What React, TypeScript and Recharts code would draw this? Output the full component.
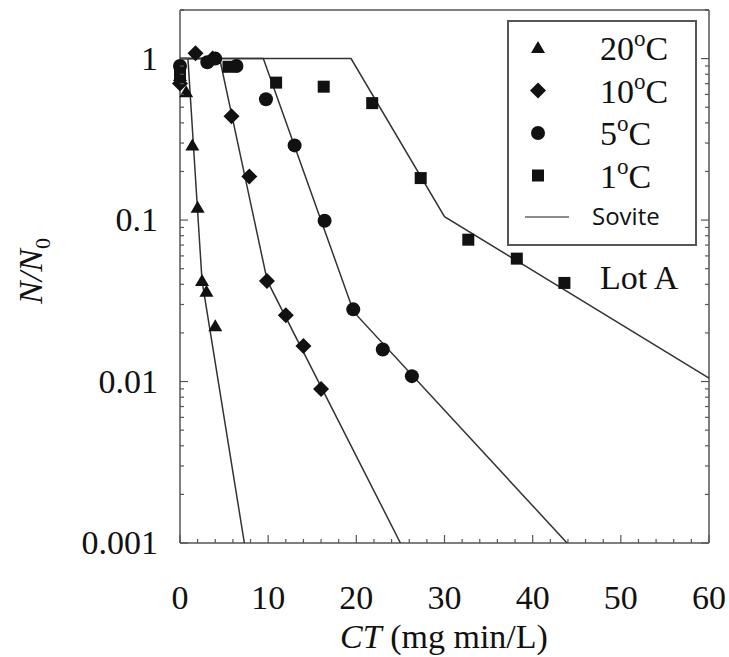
import React from 'react';
import { ScatterChart, Scatter, XAxis, YAxis, Legend } from 'recharts';

type Pt = { x: number; y: number };

// measured survival ratios N/N0 against CT (mg min/L)
const obs20: Pt[] = [
  { x: 0, y: 0.78 }, { x: 0.7, y: 0.62 }, { x: 1.4, y: 0.29 }, { x: 2.0, y: 0.119 },
  { x: 2.5, y: 0.042 }, { x: 3.0, y: 0.036 }, { x: 4.0, y: 0.022 },
];
const obs10: Pt[] = [
  { x: 0, y: 0.7 }, { x: 1.76, y: 1.08 }, { x: 3.7, y: 1.0 }, { x: 5.84, y: 0.44 },
  { x: 7.86, y: 0.186 }, { x: 9.86, y: 0.042 }, { x: 12.0, y: 0.0257 }, { x: 14.0, y: 0.0166 },
  { x: 16.0, y: 0.009 },
];
const obs5: Pt[] = [
  { x: 0, y: 0.9 }, { x: 3.1, y: 0.95 }, { x: 4.0, y: 1.0 }, { x: 6.4, y: 0.9 },
  { x: 9.75, y: 0.56 }, { x: 13.0, y: 0.29 }, { x: 16.4, y: 0.099 }, { x: 19.65, y: 0.028 },
  { x: 23.0, y: 0.0158 }, { x: 26.3, y: 0.0108 },
];
const obs1: Pt[] = [
  { x: 0, y: 0.8 }, { x: 5.5, y: 0.89 }, { x: 10.9, y: 0.71 }, { x: 16.3, y: 0.67 },
  { x: 21.8, y: 0.53 }, { x: 27.3, y: 0.182 }, { x: 32.7, y: 0.0756 }, { x: 38.2, y: 0.0577 },
  { x: 43.6, y: 0.0408 },
];

// Sovite model: lag, first-order decline, then a slower tail
const fit20: Pt[] = [{ x: 0, y: 1 }, { x: 0.9, y: 1 }, { x: 2.5, y: 0.042 }, { x: 7.3, y: 0.001 }];
const fit10: Pt[] = [{ x: 0, y: 1 }, { x: 4.5, y: 1 }, { x: 9.9, y: 0.042 }, { x: 25, y: 0.001 }];
const fit5: Pt[] = [{ x: 0, y: 1 }, { x: 9.45, y: 1 }, { x: 19.7, y: 0.027 }, { x: 43.9, y: 0.001 }];
const fit1: Pt[] = [{ x: 0, y: 1 }, { x: 19.4, y: 1 }, { x: 30, y: 0.105 }, { x: 60, y: 0.0105 }];

const xMajor = [0, 10, 20, 30, 40, 50, 60];
const xTicks = Array.from({ length: 31 }, (_, i) => i * 2);
const yMajor = [0.001, 0.01, 0.1, 1];
const yLabels = ['0.001', '0.01', '0.1', '1'];
// log ticks: each decade plus its 2..9 multiples
const yTicks = [
  ...yMajor.flatMap((d) => [1, 2, 3, 4, 5, 6, 7, 8, 9].map((m) => m * d)).filter((v) => v <= 2),
  2,
];

const INK = '#111';
const FRAME = '#555';
const SERIF = '"Liberation Serif", "Times New Roman", serif';

const isXMajor = (v: number) => xMajor.includes(v);
const majorIndex = (v: number) => yMajor.findIndex((m) => Math.abs(m - v) / m < 1e-6);

const BottomTick = ({ x, y, payload }: any) => {
  const major = isXMajor(payload.value);
  return (
    <g>
      <line x1={x} x2={x} y1={y} y2={y - (major ? 8 : 4)} stroke={FRAME} strokeWidth={1.2} />
      {major && (
        <text x={x} y={y + 66} textAnchor="middle" fontFamily={SERIF} fontSize={34} fill={INK}>
          {payload.value}
        </text>
      )}
    </g>
  );
};

const TopTick = ({ x, y, payload }: any) => (
  <line x1={x} x2={x} y1={y} y2={y + (isXMajor(payload.value) ? 8 : 4)} stroke={FRAME} strokeWidth={1.2} />
);

const LeftTick = ({ x, y, payload }: any) => {
  const idx = majorIndex(payload.value);
  return (
    <g>
      <line x1={x} x2={x + (idx >= 0 ? 8 : 4)} y1={y} y2={y} stroke={FRAME} strokeWidth={1.2} />
      {idx >= 0 && (
        <text x={x - 22} y={y + 11} textAnchor="end" fontFamily={SERIF} fontSize={34} fill={INK}>
          {yLabels[idx]}
        </text>
      )}
    </g>
  );
};

const RightTick = ({ x, y, payload }: any) => (
  <line x1={x} x2={x - (majorIndex(payload.value) >= 0 ? 8 : 4)} y1={y} y2={y} stroke={FRAME} strokeWidth={1.2} />
);

// marker shapes
const Triangle = ({ cx, cy }: any) => (
  <polygon points={`${cx},${cy - 7} ${cx + 7},${cy + 5} ${cx - 7},${cy + 5}`} fill={INK} />
);
const Diamond = ({ cx, cy }: any) => (
  <polygon points={`${cx},${cy - 8} ${cx + 8},${cy} ${cx},${cy + 8} ${cx - 8},${cy}`} fill={INK} />
);
const Dot = ({ cx, cy }: any) => <circle cx={cx} cy={cy} r={7} fill={INK} />;
const Square = ({ cx, cy }: any) => <rect x={cx - 6} y={cy - 6} width={12} height={12} fill={INK} />;
const NoMark = () => null;

const legendRows = [
  { label: '20', Mark: Triangle },
  { label: '10', Mark: Diamond },
  { label: '5', Mark: Dot },
  { label: '1', Mark: Square },
];

const LegendBox = () => (
  <svg width={190} height={226} style={{ display: 'block' }}>
    <rect x={1} y={1} width={188} height={224} fill="#fff" stroke={FRAME} strokeWidth={2} />
    {legendRows.map(({ label, Mark }, i) => {
      const cy = 28 + i * 42.5;
      return (
        <g key={label}>
          <Mark cx={31} cy={cy} />
          <text x={93} y={cy + 12} fontFamily={SERIF} fontSize={34} fill={INK}>
            {label}
            <tspan fontSize={23} dy={-14}>o</tspan>
            <tspan dy={14}>C</tspan>
          </text>
        </g>
      );
    })}
    <line x1={18} x2={62} y1={197} y2={197} stroke="#666" strokeWidth={1.5} />
    <text x={85} y={205} fontFamily='"Open Sans", sans-serif' fontSize={24} fill={INK}>Sovite</text>
  </svg>
);

const frameLine = { stroke: FRAME, strokeWidth: 1.5 };

export default function App() {
  return (
    <div style={{ position: 'absolute', left: 0, top: 0, width: 729, height: 657, background: '#fff' }}>
      <ScatterChart width={729} height={657} margin={{ top: 9, right: 19, bottom: 113, left: 100 }}>
        <XAxis
          type="number" dataKey="x" domain={[0, 60]} ticks={xTicks} interval={0}
          height={1} tickSize={0} tickMargin={0} tick={<BottomTick />} tickLine={false} axisLine={frameLine}
        />
        <XAxis
          xAxisId="top" orientation="top" type="number" dataKey="x" domain={[0, 60]} ticks={xTicks}
          interval={0} height={1} tickSize={0} tickMargin={0} tick={<TopTick />} tickLine={false} axisLine={frameLine}
        />
        <YAxis
          type="number" dataKey="y" scale="log" domain={[0.001, 2]} allowDataOverflow ticks={yTicks}
          interval={0} width={80} tickSize={0} tickMargin={0} tick={<LeftTick />} tickLine={false} axisLine={frameLine}
        />
        <YAxis
          yAxisId="right" orientation="right" type="number" dataKey="y" scale="log" domain={[0.001, 2]}
          allowDataOverflow ticks={yTicks} interval={0} width={1} tickSize={0} tickMargin={0}
          tick={<RightTick />} tickLine={false} axisLine={frameLine}
        />
        <Legend
          layout="horizontal" verticalAlign="middle" align="center"
          wrapperStyle={{ left: 507, top: 20, width: 190, height: 226 }}
          content={() => <LegendBox />}
        />

        <Scatter name="fit20" data={fit20} line={{ stroke: '#333', strokeWidth: 1.5 }} shape={<NoMark />} legendType="none" isAnimationActive={false} />
        <Scatter name="fit10" data={fit10} line={{ stroke: '#333', strokeWidth: 1.5 }} shape={<NoMark />} legendType="none" isAnimationActive={false} />
        <Scatter name="fit5" data={fit5} line={{ stroke: '#333', strokeWidth: 1.5 }} shape={<NoMark />} legendType="none" isAnimationActive={false} />
        <Scatter name="fit1" data={fit1} line={{ stroke: '#333', strokeWidth: 1.5 }} shape={<NoMark />} legendType="none" isAnimationActive={false} />

        <Scatter name="20°C" data={obs20} shape={<Triangle />} isAnimationActive={false} />
        <Scatter name="10°C" data={obs10} shape={<Diamond />} isAnimationActive={false} />
        <Scatter name="5°C" data={obs5} shape={<Dot />} isAnimationActive={false} />
        <Scatter name="1°C" data={obs1} shape={<Square />} isAnimationActive={false} />
      </ScatterChart>

      <svg width={729} height={657} style={{ position: 'absolute', left: 0, top: 0, pointerEvents: 'none' }}>
        <text x={600} y={289} fontFamily={SERIF} fontSize={34} fill={INK}>Lot A</text>
        <text x={444} y={648} textAnchor="middle" fontFamily={SERIF} fontSize={34} fill={INK}>
          <tspan fontStyle="italic">CT</tspan> (mg min/L)
        </text>
        <text transform="translate(42, 271) rotate(-90)" textAnchor="middle" fontFamily={SERIF} fontSize={34} fill={INK}>
          <tspan fontStyle="italic">N/N</tspan>
          <tspan fontSize={22} dy={8}>0</tspan>
        </text>
      </svg>
    </div>
  );
}
